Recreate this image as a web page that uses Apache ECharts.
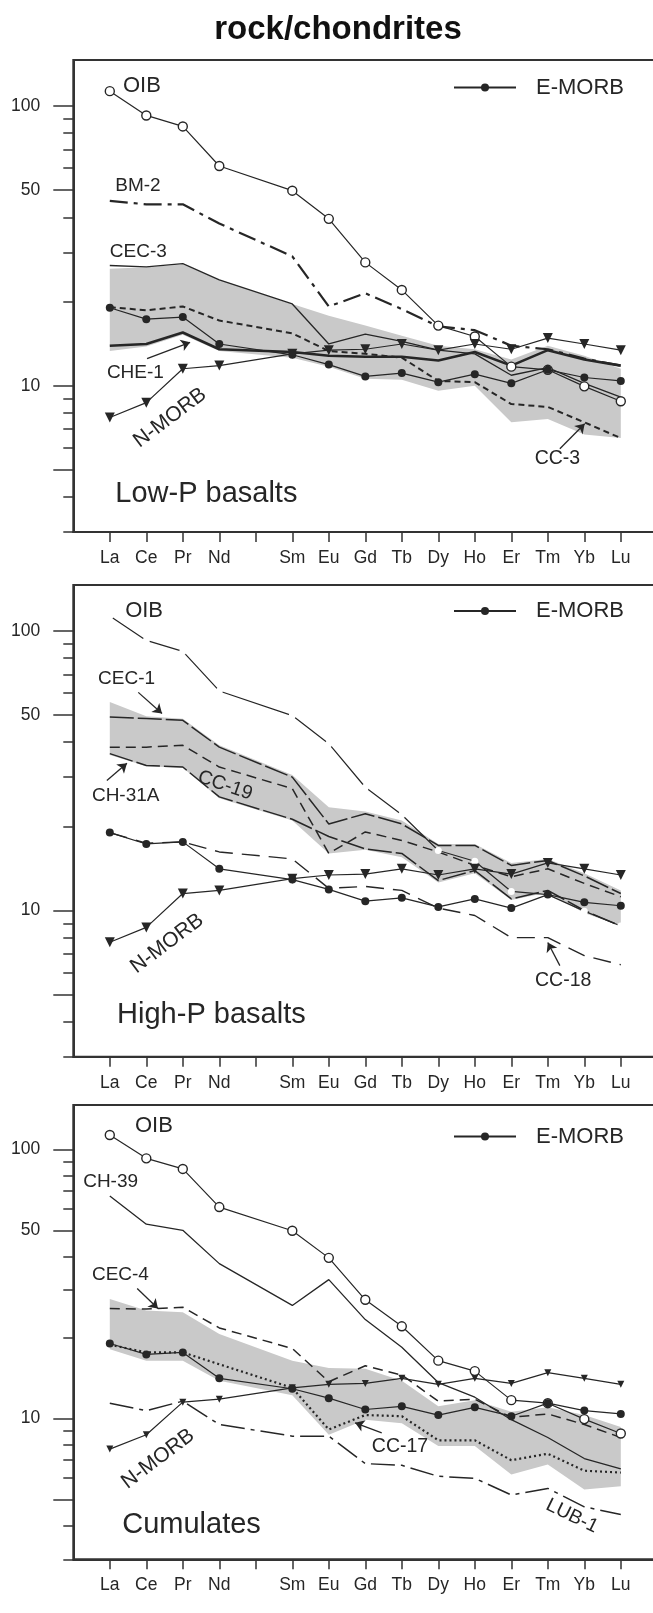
<!DOCTYPE html>
<html>
<head>
<meta charset="utf-8">
<script src="https://cdn.jsdelivr.net/npm/echarts@6/dist/echarts.min.js"></script>
<style>
  html, body { margin: 0; padding: 0; background: #fff; }
  #chart { width: 653px; height: 1613px; }
</style>
</head>
<body>
<div id="chart"></div>
<script>
// Rare earth elements in atomic order (Pm is left as an unlabelled slot)
const ree = ['La', 'Ce', 'Pr', 'Nd', 'Sm', 'Eu', 'Gd', 'Tb', 'Dy', 'Ho', 'Er', 'Tm', 'Yb', 'Lu'];
const reePos = [1, 2, 3, 4, 6, 7, 8, 9, 10, 11, 12, 13, 14, 15];
const tickPos = [1, 2, 3, 4, 5, 6, 7, 8, 9, 10, 11, 12, 13, 14, 15];

// y axis (rock/chondrite, log scale)
const yMin = 3, yMax = 146;
const majorTicks = [5, 10, 50, 100];
const labelTicks = [10, 50, 100];
const minorTicks = [3, 4, 6, 7, 8, 9, 20, 30, 40, 60, 70, 80, 90];

// Reference compositions (drawn in every panel)
const oib   = [113, 92.5, 84.5, 61, 49.8, 39.5, 27.6, 22.0, 16.4, 15.0, 11.7, 11.4, 9.95, 8.8];
const emorb = [19.0, 17.3, 17.6, 14.1, 12.9, 11.9, 10.8, 11.1, 10.3, 11.0, 10.2, 11.4, 10.7, 10.4];
const nmorb = [7.7, 8.7, 11.5, 11.8, 13.0, 13.4, 13.5, 14.1, 13.4, 14.1, 13.5, 14.8, 14.1, 13.4];

// Low-P basalts
const bm2  = [45.8, 44.5, 44.5, 38.0, 29.0, 19.2, 21.4, 18.8, 16.3, 15.8, 13.9, 13.5, 12.5, 11.8];
const cec3 = [26.9, 26.6, 27.3, 23.9, 19.6, 14.1, 15.3, 14.4, 13.4, 13.0, 10.9, 11.6, 10.2, 9.1];
const cc3  = [19.1, 18.6, 19.2, 17.1, 15.4, 13.3, 13.0, 12.6, 10.4, 10.3, 8.6, 8.4, 7.4, 6.5];
const che1 = [13.9, 14.1, 15.5, 13.5, 13.2, 12.8, 12.7, 12.7, 12.3, 13.2, 11.8, 13.4, 12.4, 11.8];
const lowPMin = [13.3, 13.8, 15.2, 13.3, 12.6, 11.7, 10.6, 10.5, 9.6, 10.0, 7.4, 7.6, 6.7, 6.5];
const lowPMax = [26.2, 26.5, 27.1, 23.9, 19.6, 17.8, 16.4, 15.1, 13.9, 13.5, 12.4, 13.9, 12.8, 11.5];

// High-P basalts
const cec1  = [49.2, 48.6, 47.9, 38.4, 30.0, 20.4, 22.2, 20.4, 17.1, 17.1, 14.5, 15.1, 13.3, 11.5];
const ch31a = [36.4, 33.0, 32.6, 25.5, 21.2, 18.4, 16.6, 16.0, 12.8, 13.9, 11.0, 11.8, 10.0, 8.8];
const cc19  = [38.4, 38.4, 39.0, 32.6, 27.3, 16.0, 19.1, 17.8, 16.2, 14.5, 13.2, 14.1, 12.5, 11.2];
const cc18  = [19.0, 17.4, 17.6, 16.2, 15.3, 12.0, 12.2, 11.8, 10.2, 9.6, 8.0, 8.0, 6.9, 6.4];
const highPMin = [36.0, 32.8, 32.4, 25.2, 21.0, 16.0, 16.5, 15.5, 12.6, 13.6, 10.9, 11.6, 9.8, 8.8];
const highPMax = [55.7, 49.5, 48.5, 39.0, 30.5, 23.4, 22.6, 21.0, 17.3, 17.3, 14.8, 15.3, 13.6, 11.8];

// Cumulates
const ch39 = [67, 52.7, 50.0, 37.6, 26.3, 32.8, 23.3, 18.4, 13.6, 12.0, 9.9, 8.5, 7.1, 6.5];
const cec4 = [25.6, 25.5, 25.9, 21.7, 18.2, 13.7, 15.7, 14.5, 11.6, 11.8, 10.1, 10.4, 9.5, 8.5];
const cc17 = [18.8, 17.6, 17.6, 15.9, 13.0, 9.1, 10.3, 10.2, 8.3, 8.3, 7.0, 7.4, 6.4, 6.3];
const lub1 = [11.4, 10.7, 11.6, 9.5, 8.6, 8.6, 6.8, 6.7, 6.1, 6.0, 5.2, 5.5, 4.7, 4.4];
const cumMin = [18.1, 16.4, 16.4, 13.8, 12.2, 8.7, 9.9, 9.6, 7.9, 7.9, 6.2, 6.75, 5.45, 5.6];
const cumMax = [27.8, 25.2, 24.8, 20.6, 16.4, 15.4, 15.3, 13.8, 11.1, 11.7, 10.6, 11.0, 10.3, 9.3];

// Annotations: [panel, text, element position, value, font size, rotation(deg), align]
const notes = [
  [0, 'OIB', 1.36, 118, 22, 0, 'left'],
  [0, 'BM-2', 1.15, 51.9, 19, 0, 'left'],
  [0, 'CEC-3', 1.0, 30.2, 19, 0, 'left'],
  [0, 'CHE-1', 0.92, 11.1, 19, 0, 'left'],
  [0, 'N-MORB', 2.65, 7.68, 21, 37, 'center'],
  [0, 'CC-3', 12.64, 5.47, 19.5, 0, 'left'],
  [0, 'Low-P basalts', 1.15, 4.1, 29, 0, 'left'],
  [1, 'OIB', 1.42, 117.6, 22, 0, 'left'],
  [1, 'CEC-1', 0.68, 67.2, 19, 0, 'left'],
  [1, 'CH-31A', 0.51, 25.8, 19, 0, 'left'],
  [1, 'CC-19', 4.16, 28.0, 19.5, -19, 'center'],
  [1, 'N-MORB', 2.57, 7.62, 21, 37, 'center'],
  [1, 'CC-18', 12.65, 5.62, 19.5, 0, 'left'],
  [1, 'High-P basalts', 1.2, 4.24, 29, 0, 'left'],
  [2, 'OIB', 1.69, 122, 22, 0, 'left'],
  [2, 'CH-39', 0.27, 75.5, 19, 0, 'left'],
  [2, 'CEC-4', 0.51, 34.3, 19, 0, 'left'],
  [2, 'CC-17', 8.18, 7.85, 19.5, 0, 'left'],
  [2, 'LUB-1', 13.66, 4.34, 19.5, -26, 'center'],
  [2, 'N-MORB', 2.32, 7.08, 21, 37, 'center'],
  [2, 'Cumulates', 1.34, 4.02, 29, 0, 'left']
];

// Pointer arrows: [panel, from position, from value, to position, to value]
const arrows = [
  [0, 2.02, 12.5, 3.20, 14.3],
  [0, 13.33, 5.95, 14.01, 7.31],
  [1, 1.78, 60.3, 2.43, 50.7],
  [1, 0.92, 29.2, 1.47, 33.6],
  [1, 13.33, 6.35, 13.0, 7.68],
  [2, 1.75, 30.4, 2.32, 25.6],
  [2, 8.45, 8.85, 7.72, 9.64]
];

const FONT = '"Liberation Sans", Arial, Helvetica, sans-serif';
const INK = '#262626';
const L = Math.log10;

const gridTops = [60, 585, 1105];
const gridHeights = [472, 471.7, 454.3];
const legendTops = [76.5, 600, 1125.5];

const toData = vals => reePos.map((x, i) => [x, L(vals[i])]);

function curve(name, gi, vals, lineStyle, extra) {
  return Object.assign({
    type: 'line', name: name, xAxisIndex: gi, yAxisIndex: gi,
    data: toData(vals), symbol: 'none', silent: true,
    lineStyle: Object.assign({ color: INK, width: 1.3 }, lineStyle),
    itemStyle: { color: INK }, z: 3
  }, extra || {});
}

// Shaded compositional range of a sample group, drawn as one polygon
function band(gi, lo, hi) {
  return {
    type: 'custom', name: 'range-' + gi, xAxisIndex: gi, yAxisIndex: gi, silent: true, z: 1,
    data: reePos.map((x, i) => [x, L(lo[i]), L(hi[i])]),
    encode: { x: 0, y: [1, 2] },
    renderItem: function (params, api) {
      if (params.dataIndex !== 0) return null;
      const upper = reePos.map((x, i) => api.coord([x, L(hi[i])]));
      const lower = reePos.map((x, i) => api.coord([x, L(lo[i])])).reverse();
      return {
        type: 'polygon',
        shape: { points: upper.concat(lower) },
        style: { fill: '#c9c9c9', stroke: 'none' }
      };
    }
  };
}

function referenceSeries(gi) {
  const arrowData = arrows.filter(a => a[0] === gi).map(a => [
    { coord: [a[1], L(a[2])] }, { coord: [a[3], L(a[4])] }
  ]);
  const oibStyle = gi === 1
    ? { symbol: 'circle', symbolSize: 7, itemStyle: { color: '#fff', borderWidth: 0 } }
    : { symbol: 'circle', symbolSize: 9, itemStyle: { color: '#fff', borderColor: INK, borderWidth: 1.4 } };
  return [
    curve('OIB', gi, oib, { width: 1.2 }, Object.assign({}, oibStyle, {
      z: 4,
      markLine: {
        silent: true, animation: false, symbol: ['none', 'arrow'], symbolSize: 9,
        label: { show: false }, lineStyle: { color: INK, width: 1.3, type: 'solid' },
        emphasis: { disabled: true }, data: arrowData
      }
    })),
    curve('N-MORB', gi, nmorb, { width: 1.2 }, {
      symbol: 'triangle', symbolRotate: 180, symbolSize: gi === 2 ? 7 : 10,
      itemStyle: { color: INK }, z: 5
    }),
    curve('E-MORB', gi, emorb, { width: 1.2 }, {
      symbol: 'circle', symbolSize: 8, itemStyle: { color: INK }, z: 6
    })
  ];
}

const series = [].concat(
  [band(0, lowPMin, lowPMax)],
  [
    curve('BM-2', 0, bm2, { width: 2.2, type: [18, 6, 4, 6] }),
    curve('CEC-3', 0, cec3, { width: 1.3 }),
    curve('CC-3', 0, cc3, { width: 2, type: [6, 4] }),
    curve('CHE-1', 0, che1, { width: 2.6 })
  ],
  referenceSeries(0),
  [band(1, highPMin, highPMax)],
  [
    curve('CEC-1', 1, cec1, { width: 1.5, type: [24, 4] }),
    curve('CH-31A', 1, ch31a, { width: 1.5, type: [24, 4] }),
    curve('CC-19', 1, cc19, { width: 1.5, type: [10, 6] }),
    curve('CC-18', 1, cc18, { width: 1.4, type: [18, 9] })
  ],
  referenceSeries(1),
  [band(2, cumMin, cumMax)],
  [
    curve('CH-39', 2, ch39, { width: 1.3 }),
    curve('CEC-4', 2, cec4, { width: 1.5, type: [10, 6] }),
    curve('CC-17', 2, cc17, { width: 2.2, type: [2, 3] }),
    curve('LUB-1', 2, lub1, { width: 1.5, type: [24, 6, 4, 6] })
  ],
  referenceSeries(2)
);

const grid = gridTops.map((t, i) => ({
  left: 73.3, top: t, width: 584, height: gridHeights[i],
  outerBoundsMode: 'none', containLabel: false,
  show: true, borderColor: '#333', borderWidth: 2, backgroundColor: 'transparent'
}));

const xAxis = gridTops.map((t, i) => ({
  type: 'value', gridIndex: i, min: 0, max: 16, interval: 1,
  axisLine: { show: true, lineStyle: { color: '#333', width: 2 } },
  axisTick: { show: true, length: 10, lineStyle: { color: '#333', width: 1.5 }, customValues: tickPos },
  axisLabel: {
    customValues: reePos, margin: 17, fontSize: 17.5, fontFamily: FONT, color: INK,
    formatter: v => ree[reePos.indexOf(Math.round(v))] || ''
  },
  splitLine: { show: false }
}));

const yMajor = gridTops.map((t, i) => ({
  type: 'value', gridIndex: i, min: L(yMin), max: L(yMax), position: 'left',
  axisLine: { show: true, lineStyle: { color: '#333', width: 2 } },
  axisTick: { show: true, length: 20, lineStyle: { color: '#333', width: 1.5 }, customValues: majorTicks.map(L) },
  axisLabel: {
    customValues: labelTicks.map(L), margin: 33, fontSize: 17.5, fontFamily: FONT, color: INK,
    formatter: v => String(Math.round(Math.pow(10, v)))
  },
  splitLine: { show: false }
}));

const yMinor = gridTops.map((t, i) => ({
  type: 'value', gridIndex: i, min: L(yMin), max: L(yMax), position: 'left', offset: 0,
  axisLine: { show: false },
  axisTick: { show: true, length: 10, lineStyle: { color: '#333', width: 1.5 }, customValues: minorTicks.map(L) },
  axisLabel: { show: false },
  splitLine: { show: false }
}));

const legend = legendTops.map(t => ({
  data: ['E-MORB'], left: 453, top: t, padding: 0, selectedMode: false,
  itemWidth: 62, itemHeight: 10,
  textStyle: { fontSize: 22, fontFamily: FONT, color: INK, padding: [0, 0, 0, 15] }
}));

const chart = echarts.init(document.getElementById('chart'), null, { renderer: 'canvas' });
chart.setOption({
  animation: false,
  backgroundColor: '#fff',
  title: {
    text: 'rock/chondrites', left: 338, textAlign: 'center', top: 13, padding: 0,
    textStyle: { fontSize: 33, fontWeight: 'bold', fontFamily: FONT, color: '#111' }
  },
  legend: legend,
  grid: grid,
  xAxis: xAxis,
  yAxis: yMajor.concat(yMinor),
  series: series
});

// Sample labels are positioned in data space of their panel
chart.setOption({
  graphic: notes.map(n => {
    const p = chart.convertToPixel({ gridIndex: n[0] }, [n[2], L(n[3])]);
    return {
      type: 'text', x: p[0], y: p[1], rotation: n[5] * Math.PI / 180, silent: true, z: 10,
      style: {
        text: n[1], fontSize: n[4], fontFamily: FONT, fill: INK,
        align: n[6], verticalAlign: 'middle'
      }
    };
  })
});
</script>
</body>
</html>
